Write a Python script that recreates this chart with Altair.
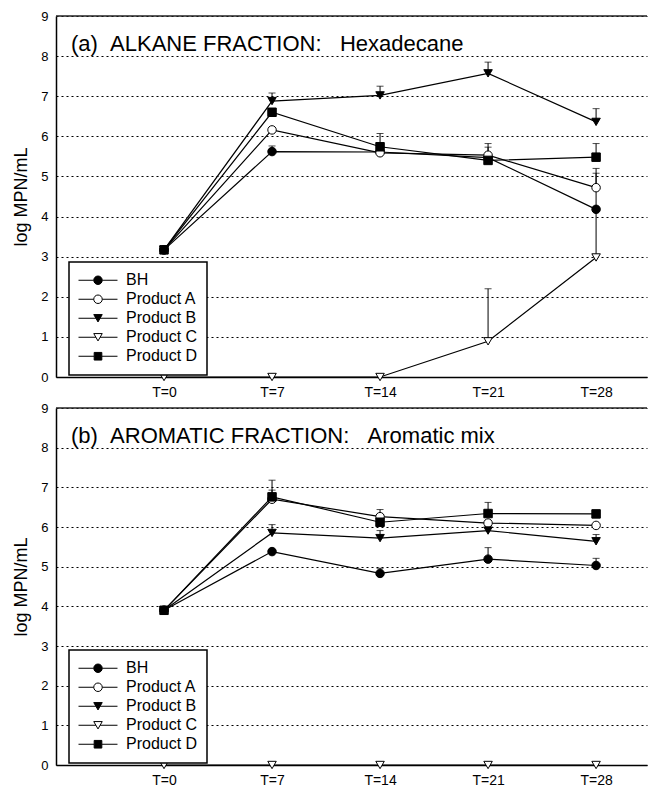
import math
import altair as alt
import pandas as pd

SERIES = ["BH", "Product A", "Product B", "Product C", "Product D"]
DAYS = [0, 7, 14, 21, 28]
DAY_LABELS = ["T=0", "T=7", "T=14", "T=21", "T=28"]

# (a) ALKANE FRACTION: Hexadecane  (log MPN/mL)
ALK_BH = [3.17, 5.62, 5.61, 5.47, 4.18]
ALK_A = [3.17, 6.16, 5.59, 5.53, 4.72]
ALK_B = [3.17, 6.88, 7.02, 7.57, 6.36]
ALK_C = [0.00, 0.00, 0.00, 0.89, 2.98]
ALK_D = [3.17, 6.60, 5.74, 5.40, 5.48]
# upper error bars
ALK_BH_ERR = [0, 0.14, 0, 0, 1.02]
ALK_A_ERR = [0, 0, 0, 0.29, 0.36]
ALK_B_ERR = [0, 0.20, 0.23, 0.28, 0.33]
ALK_C_ERR = [0, 0, 0, 1.31, 1.20]
ALK_D_ERR = [0, 0, 0.33, 0.33, 0.34]

# (b) AROMATIC FRACTION: Aromatic mix
ARO_BH = [3.90, 5.38, 4.83, 5.19, 5.03]
ARO_A = [3.90, 6.70, 6.26, 6.10, 6.04]
ARO_B = [3.90, 5.85, 5.72, 5.91, 5.64]
ARO_C = [0.00, 0.00, 0.00, 0.00, 0.00]
ARO_D = [3.90, 6.76, 6.12, 6.34, 6.33]
ARO_BH_ERR = [0, 0, 0.13, 0.29, 0.18]
ARO_A_ERR = [0, 0.23, 0.18, 0, 0]
ARO_B_ERR = [0, 0.21, 0.19, 0, 0.17]
ARO_C_ERR = [0, 0, 0, 0, 0]
ARO_D_ERR = [0, 0.42, 0, 0.28, 0]

TITLE_A = "(a)\u00a0\u00a0ALKANE FRACTION:\u00a0\u00a0\u00a0Hexadecane"
TITLE_B = "(b)\u00a0\u00a0AROMATIC FRACTION:\u00a0\u00a0\u00a0Aromatic mix"

FONT = "Liberation Sans"
MSIZE = 72
SHAPES = ["circle", "circle", "triangle-down", "triangle-down", "square"]
FILLS = ["black", "white", "black", "white", "black"]
STROKES = ["black"] * 5
HL = 19.5 / (math.sqrt(MSIZE) / 2)
L = "M-{h:.3f},0H-{g}M{g},0H{h:.3f}"
LEGEND_PATHS = [
    L.format(h=HL, g=1) + "M1,0A1,1,0,1,1,-1,0A1,1,0,1,1,1,0Z",
    L.format(h=HL, g=1) + "M1,0A1,1,0,1,1,-1,0A1,1,0,1,1,1,0Z",
    L.format(h=HL, g=0.5) + "M0,0.866L1,-0.866L-1,-0.866Z",
    L.format(h=HL, g=0.5) + "M0,0.866L1,-0.866L-1,-0.866Z",
    L.format(h=HL, g=0.9) + "M-0.9,-0.9H0.9V0.9H-0.9Z",
]

label_expr = " : ".join(
    f"datum.value == {d} ? '{t}'" for d, t in zip(DAYS, DAY_LABELS)
) + " : ''"

W = 591


def panel(vals, errs, title_text, height):
    rows = []
    for s, v, e in zip(SERIES, vals, errs):
        for d, y, err in zip(DAYS, v, e):
            rows.append({"series": s, "day": d, "value": y, "top": y + err, "err": err})
    df = pd.DataFrame(rows)

    xs = alt.Scale(domain=[-7, 31.3], nice=False, zero=False)
    xa = alt.Axis(values=DAYS, labelExpr=label_expr, grid=False, ticks=False,
                  labelPadding=8, labelOverlap=False, labelFontSize=14)
    ys = alt.Scale(domain=[0, 9], nice=False)
    ya = alt.Axis(values=list(range(10)), grid=True, ticks=False, labelPadding=8,
                  labelOverlap=False, labelFlush=False, labelFontSize=13,
                  titleFontSize=18, titlePadding=10,
                  gridDash=[2, 3], gridColor="black", gridWidth=1.2)
    ytitle = "log MPN/mL"

    def X(f="day:Q"):
        return alt.X(f, scale=xs, axis=xa, title=None)

    def Y(f):
        return alt.Y(f, scale=ys, axis=ya, title=ytitle)

    base = alt.Chart(df)
    lines = base.mark_line(color="black", strokeWidth=1.2).encode(
        x=X(), y=Y("value:Q"), detail="series:N")
    eb = base.transform_filter("datum.err > 0")
    bars = eb.mark_rule(color="black", strokeWidth=1).encode(
        x=X(), y=Y("value:Q"), y2="top:Q")
    caps = eb.mark_tick(color="black", orient="horizontal", size=7, thickness=1).encode(
        x=X(), y=Y("top:Q"))
    points = base.mark_point(filled=True, size=MSIZE, stroke="black", strokeWidth=1,
                             opacity=1).encode(
        x=X(), y=Y("value:Q"),
        shape=alt.Shape("series:N", scale=alt.Scale(domain=SERIES, range=SHAPES), legend=None),
        fill=alt.Fill("series:N", scale=alt.Scale(domain=SERIES, range=FILLS), legend=None),
    )
    leg = alt.Legend(title=None, orient="none", legendX=13, legendY=height - 115,
                     padding=9, strokeColor="black", fillColor="white",
                     labelFont=FONT, labelFontSize=16, clipHeight=18.5, rowPadding=0,
                     symbolSize=MSIZE, symbolOffset=12, labelOffset=20,
                     symbolStrokeWidth=1, symbolStrokeColor="black")
    legend_layer = base.transform_filter("false").mark_point(
        filled=False, size=MSIZE, strokeWidth=1, opacity=1).encode(
        shape=alt.Shape("series:N", scale=alt.Scale(domain=SERIES, range=LEGEND_PATHS), legend=leg),
        fill=alt.Fill("series:N", scale=alt.Scale(domain=SERIES, range=FILLS), legend=leg),
        stroke=alt.Stroke("series:N", scale=alt.Scale(domain=SERIES, range=STROKES), legend=leg),
    )
    one = alt.Chart(pd.DataFrame({"label": [title_text]}))
    frame = one.mark_rule(color="#222", strokeWidth=1.5).encode(
        y=alt.YDatum(9, scale=ys, axis=ya, title=ytitle))
    title = one.mark_text(align="left", baseline="alphabetic", fontSize=22, font=FONT,
                          fontWeight="normal", color="black").encode(
        x=alt.value(15), y=alt.value(35), text="label:N")

    return alt.layer(lines, bars, caps, points, legend_layer, frame, title).resolve_scale(
        shape="independent", fill="independent", stroke="independent"
    ).properties(width=W, height=height)


top = panel([ALK_BH, ALK_A, ALK_B, ALK_C, ALK_D],
            [ALK_BH_ERR, ALK_A_ERR, ALK_B_ERR, ALK_C_ERR, ALK_D_ERR], TITLE_A, 361)
bottom = panel([ARO_BH, ARO_A, ARO_B, ARO_C, ARO_D],
               [ARO_BH_ERR, ARO_A_ERR, ARO_B_ERR, ARO_C_ERR, ARO_D_ERR], TITLE_B, 357)

chart = alt.vconcat(top, bottom, spacing=3).resolve_scale(
    shape="independent", fill="independent", stroke="independent"
).resolve_legend(shape="independent", fill="independent", stroke="independent").properties(
    padding={"top": 2, "left": 4, "right": 0, "bottom": 0}
).configure_view(stroke=None).configure_axis(
    labelFont=FONT, titleFont=FONT, labelColor="black", titleColor="black",
    domainColor="black", domainWidth=1.5, titleFontWeight="normal"
).configure_legend(strokeWidth=1.5)

chart.save("out.html", embed_options={"renderer": "svg", "actions": False})
